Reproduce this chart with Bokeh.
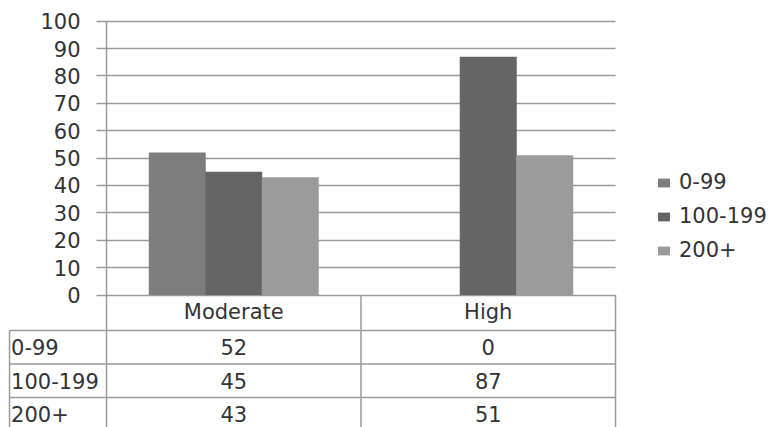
from bokeh.plotting import figure
from bokeh.models import (Range1d, FixedTicker, ColumnDataSource, Legend,
                          LegendItem, LinearAxis, Grid)
from bokeh.core.properties import value
from bokeh.embed import file_html
from bokeh.resources import INLINE

# ---- data ----
categories = ["Moderate", "High"]
series = ["0-99", "100-199", "200+"]
values_0_99 = [52, 0]
values_100_199 = [45, 87]
values_200_plus = [43, 51]
y_ticks = [0, 10, 20, 30, 40, 50, 60, 70, 80, 90, 100]

# ---- style / layout constants ----
colors = ["#7d7d7d", "#656565", "#9b9b9b"]
FONT = "DejaVu Sans"
FS = "21px"
TXT = "#333333"
LINE = "#9a9a9a"
offsets = [-0.222, 0.0, 0.222]
BAR_W = 0.224
W, H = 768, 427
PX_X = 254.5                    # pixels per category
X0_PX = 106                     # pixel position of the value axis
PX_Y = 2.738                    # pixels per value unit
Y0_PX = 294.5                   # pixel position of value 0
XS, XE = -X0_PX / PX_X, (W - X0_PX) / PX_X
YS, YE = -(H - Y0_PX) / PX_Y, Y0_PX / PX_Y

p = figure(width=W, height=H,
           x_range=Range1d(XS, XE), y_range=Range1d(YS, YE),
           output_backend="svg", toolbar_location=None,
           x_axis_location=None, y_axis_location=None,
           min_border_left=0, min_border_right=0,
           min_border_top=0, min_border_bottom=0,
           outline_line_color=None)
for g in p.grid:
    g.visible = False

n = len(categories)

# value axis drawn at x=0 (between the row-label column and the plot)
yax = LinearAxis(fixed_location=0, ticker=FixedTicker(ticks=y_ticks),
                 bounds=(YS, 100), major_tick_in=0, major_tick_out=10,
                 minor_tick_line_color=None, axis_line_color=LINE,
                 axis_line_width=1.5, major_tick_line_color=LINE,
                 major_tick_line_width=1.5, major_label_standoff=16,
                 major_label_text_font=FONT, major_label_text_font_size=FS,
                 major_label_text_color=TXT)
p.add_layout(yax, "left")

# horizontal gridlines
if "cross_bounds" in Grid.properties():
    grid = Grid(dimension=1, ticker=FixedTicker(ticks=y_ticks),
                cross_bounds=(0, n), grid_line_color=LINE, grid_line_width=1.5)
    p.add_layout(grid)
else:
    p.segment(x0=[0] * len(y_ticks), x1=[n] * len(y_ticks), y0=y_ticks,
              y1=y_ticks, line_color=LINE, line_width=1.5)

# bars
cat_x = [i + 0.5 for i in range(n)]
items = []
for i, (name, vals) in enumerate(zip(series, [values_0_99, values_100_199,
                                             values_200_plus])):
    src = ColumnDataSource(dict(x=[c + offsets[i] for c in cat_x], top=vals))
    r = p.vbar(x="x", top="top", width=BAR_W, source=src,
               fill_color=colors[i], line_color=None)
    items.append(LegendItem(label=name, renderers=[r]))

legend = Legend(items=items, location=(656, 165), padding=0, margin=0,
                border_line_color=None, background_fill_alpha=0,
                glyph_width=15, glyph_height=11, label_standoff=8,
                label_height=24, spacing=10,
                label_text_font=FONT, label_text_font_size=FS,
                label_text_color=TXT)
p.add_layout(legend)

# ---- data table under the plot ----
LEFT_X = -0.381
row_lines = [-12.97, -25.20, -37.44]
row_centers = [-19.17, -31.23, -43.28]
HEADER_Y = -6.39

x0, y0, x1, y1 = [], [], [], []
for yy in row_lines:
    x0.append(LEFT_X); x1.append(n); y0.append(yy); y1.append(yy)
x0.append(LEFT_X); x1.append(LEFT_X); y0.append(row_lines[0]); y1.append(YS)
for k in range(1, n + 1):
    x0.append(k); x1.append(k); y0.append(0); y1.append(YS)
p.segment(x0=x0, y0=y0, x1=x1, y1=y1, line_color=LINE, line_width=1.5)

p.text(x=cat_x, y=[HEADER_Y] * n, text=categories,
       text_align="center", text_baseline="middle",
       text_font=value(FONT), text_font_size=value(FS), text_color=TXT)

rows = [values_0_99, values_100_199, values_200_plus]
cx, cy, ct = [], [], []
for r, vals in enumerate(rows):
    for c, v in zip(cat_x, vals):
        cx.append(c); cy.append(row_centers[r]); ct.append(str(v))
p.text(x=cx, y=cy, text=ct, text_align="center", text_baseline="middle",
       text_font=value(FONT), text_font_size=value(FS), text_color=TXT)

p.text(x=[LEFT_X + 0.006] * len(series), y=row_centers, text=series,
       text_align="left", text_baseline="middle",
       text_font=value(FONT), text_font_size=value(FS), text_color=TXT)

open("out.html", "w").write(file_html(p, INLINE))
